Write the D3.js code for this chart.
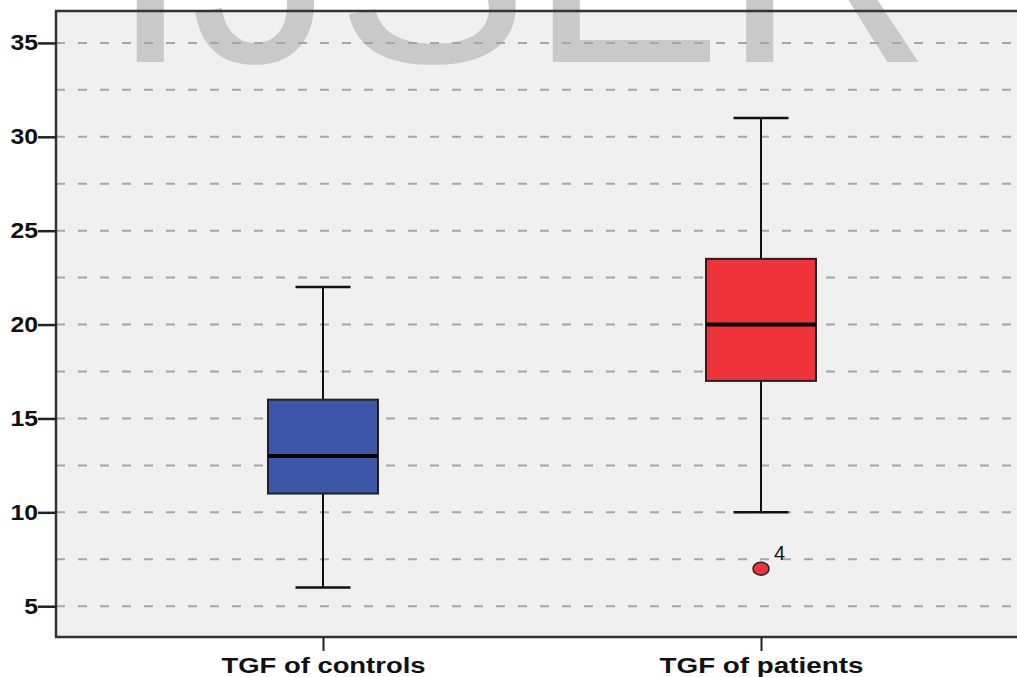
<!DOCTYPE html>
<html>
<head>
<meta charset="utf-8">
<script src="https://cdn.jsdelivr.net/npm/d3@7"></script>
<style>
  html, body { margin: 0; padding: 0; background: #fff; }
  svg { display: block; }
</style>
</head>
<body>
<div id="chart"></div>
<script>
var categories = ['TGF of controls', 'TGF of patients']
var mins = [6, 10]
var q1s = [11, 17]
var medians = [13, 20]
var q3s = [16, 23.5]
var maxs = [22, 31]
var boxColors = ['#3c55a6', '#f0323b']

var outlierCats = ['TGF of patients']
var outlierValues = [7]
var outlierLabels = ['4']

var yTicks = [5, 10, 15, 20, 25, 30, 35]
var gridValues = [5, 7.5, 10, 12.5, 15, 17.5, 20, 22.5, 25, 27.5, 30, 32.5, 35]

var W = 1017, H = 677
var plotLeft = 56, plotTop = 11, plotBottom = 637

var svg = d3.select('#chart').append('svg')
  .attr('width', W)
  .attr('height', H)
  .style('background-color', '#fff')

var x = d3.scalePoint().domain(categories).range([104, 980]).padding(0.5)
var y = d3.scaleLinear().domain([3.36, 36.7]).range([plotBottom, plotTop])

// plot background
svg.append('rect')
  .attr('x', plotLeft).attr('y', plotTop)
  .attr('width', W - plotLeft + 10).attr('height', plotBottom - plotTop)
  .attr('fill', '#f0f0f0')

// watermark
svg.append('text')
  .attr('x', 110).attr('y', 62)
  .attr('font-family', 'Liberation Sans, Arial, sans-serif')
  .attr('font-size', 290)
  .attr('fill', '#c9c9c9')
  .text('IJSER')

// dashed grid
svg.append('g').selectAll('line')
  .data(gridValues)
  .join('line')
  .attr('x1', plotLeft).attr('x2', W)
  .attr('y1', function(d){ return y(d) })
  .attr('y2', function(d){ return y(d) })
  .attr('stroke', '#a6a6a6')
  .attr('stroke-width', 2)
  .attr('stroke-dasharray', '9,13')

var capW = 55, boxW = 110

var boxes = svg.append('g').selectAll('g')
  .data(categories)
  .join('g')

// whiskers
boxes.append('line')
  .attr('x1', function(d){ return x(d) }).attr('x2', function(d){ return x(d) })
  .attr('y1', function(d, i){ return y(maxs[i]) })
  .attr('y2', function(d, i){ return y(q3s[i]) })
  .attr('stroke', '#111').attr('stroke-width', 2)
boxes.append('line')
  .attr('x1', function(d){ return x(d) }).attr('x2', function(d){ return x(d) })
  .attr('y1', function(d, i){ return y(q1s[i]) })
  .attr('y2', function(d, i){ return y(mins[i]) })
  .attr('stroke', '#111').attr('stroke-width', 2)
// caps
boxes.append('line')
  .attr('x1', function(d){ return x(d) - capW / 2 }).attr('x2', function(d){ return x(d) + capW / 2 })
  .attr('y1', function(d, i){ return y(maxs[i]) })
  .attr('y2', function(d, i){ return y(maxs[i]) })
  .attr('stroke', '#111').attr('stroke-width', 2.5)
boxes.append('line')
  .attr('x1', function(d){ return x(d) - capW / 2 }).attr('x2', function(d){ return x(d) + capW / 2 })
  .attr('y1', function(d, i){ return y(mins[i]) })
  .attr('y2', function(d, i){ return y(mins[i]) })
  .attr('stroke', '#111').attr('stroke-width', 2.5)
// box
boxes.append('rect')
  .attr('x', function(d){ return x(d) - boxW / 2 })
  .attr('y', function(d, i){ return y(q3s[i]) })
  .attr('width', boxW)
  .attr('height', function(d, i){ return y(q1s[i]) - y(q3s[i]) })
  .attr('fill', function(d, i){ return boxColors[i] })
  .attr('stroke', '#222').attr('stroke-width', 2)
// median
boxes.append('line')
  .attr('x1', function(d){ return x(d) - boxW / 2 }).attr('x2', function(d){ return x(d) + boxW / 2 })
  .attr('y1', function(d, i){ return y(medians[i]) })
  .attr('y2', function(d, i){ return y(medians[i]) })
  .attr('stroke', '#000').attr('stroke-width', 4)

// outliers
var outl = svg.append('g').selectAll('g')
  .data(outlierValues)
  .join('g')
outl.append('ellipse')
  .attr('cx', function(d, i){ return x(outlierCats[i]) })
  .attr('cy', function(d){ return y(d) })
  .attr('rx', 8).attr('ry', 6.5)
  .attr('fill', function(d, i){ return boxColors[categories.indexOf(outlierCats[i])] })
  .attr('stroke', '#222').attr('stroke-width', 1.5)
outl.append('text')
  .attr('x', function(d, i){ return x(outlierCats[i]) + 13 })
  .attr('y', function(d){ return y(d) - 9 })
  .attr('font-family', 'Liberation Sans, Arial, sans-serif')
  .attr('font-size', 20)
  .attr('fill', '#111')
  .text(function(d, i){ return outlierLabels[i] })

// frame
svg.append('path')
  .attr('d', 'M' + (W + 5) + ',' + plotTop + 'H' + plotLeft + 'V' + plotBottom + 'H' + (W + 5))
  .attr('fill', 'none')
  .attr('stroke', '#333')
  .attr('stroke-width', 2.5)

// y axis
var yAxis = svg.append('g')
  .attr('transform', 'translate(' + plotLeft + ',0)')
  .call(d3.axisLeft(y).tickValues(yTicks).tickSize(18).tickPadding(0).tickFormat(d3.format('d')))
yAxis.select('.domain').remove()
yAxis.selectAll('.tick line').attr('stroke', '#222').attr('stroke-width', 2.5)
yAxis.selectAll('.tick text')
  .attr('font-family', 'Liberation Sans, Arial, sans-serif')
  .attr('font-weight', 'bold')
  .attr('font-size', 22)
  .attr('fill', '#111')
  .attr('textLength', function(d){ return String(d).length * 13.8 })
  .attr('lengthAdjust', 'spacingAndGlyphs')

// x axis
var xAxis = svg.append('g')
  .attr('transform', 'translate(0,' + plotBottom + ')')
  .call(d3.axisBottom(x).tickSize(14).tickPadding(6))
xAxis.select('.domain').remove()
xAxis.selectAll('.tick line').attr('stroke', '#222').attr('stroke-width', 2)
xAxis.selectAll('.tick text')
  .attr('font-family', 'Liberation Sans, Arial, sans-serif')
  .attr('font-weight', 'bold')
  .attr('font-size', 22)
  .attr('fill', '#111')
  .attr('textLength', 204)
  .attr('lengthAdjust', 'spacingAndGlyphs')
</script>
</body>
</html>
